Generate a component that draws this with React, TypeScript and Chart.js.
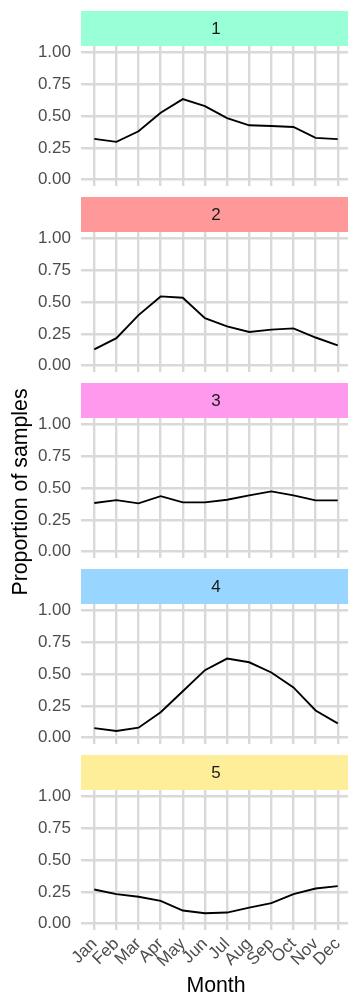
import React, { useEffect, useRef } from "react";
import { Chart, registerables } from "chart.js";

Chart.register(...registerables);

const months = ["Jan", "Feb", "Mar", "Apr", "May", "Jun", "Jul", "Aug", "Sep", "Oct", "Nov", "Dec"];
const panelLabels = ["1", "2", "3", "4", "5"];
const stripColors = ["#99FFD6", "#FF9999", "#FF99EE", "#99D6FF", "#FFEE99"];

const cluster1 = [0.32, 0.297, 0.38, 0.526, 0.633, 0.578, 0.484, 0.427, 0.422, 0.414, 0.328, 0.318];
const cluster2 = [0.128, 0.216, 0.397, 0.544, 0.533, 0.373, 0.309, 0.264, 0.283, 0.293, 0.221, 0.16];
const cluster3 = [0.382, 0.405, 0.379, 0.436, 0.387, 0.387, 0.408, 0.442, 0.473, 0.442, 0.403, 0.403];
const cluster4 = [0.075, 0.052, 0.078, 0.2, 0.364, 0.53, 0.621, 0.592, 0.512, 0.395, 0.213, 0.112];
const cluster5 = [0.268, 0.232, 0.211, 0.179, 0.103, 0.082, 0.087, 0.126, 0.161, 0.232, 0.276, 0.295];
const seriesList = [cluster1, cluster2, cluster3, cluster4, cluster5];

const yTicks = [0, 0.25, 0.5, 0.75, 1];
const yTickLabels = ["0.00", "0.25", "0.50", "0.75", "1.00"];
const xTitle = "Month";
const yTitle = "Proportion of samples";

const FONT = "'Liberation Sans', Arial, Helvetica, sans-serif";
const STRIP_H = 35;
const PLOT_H = 140;
const PANEL_STEP = 186;
const TOP0 = 11;
const AXIS_W = 81;
const CANVAS_W = 351;
const LAST_EXTRA = 69;
const GRID_COLOR = "#D9D9D9";
const GRID_W = 2.4;

Chart.defaults.font.family = FONT;

function Panel({ index, values, last }: { index: number; values: number[]; last: boolean }) {
  const ref = useRef<HTMLCanvasElement>(null);
  const height = STRIP_H + PLOT_H + (last ? LAST_EXTRA : 0);

  useEffect(() => {
    const stripPlugin = {
      id: "strip" + index,
      beforeDraw(chart: any) {
        const { ctx, chartArea } = chart;
        ctx.save();
        ctx.fillStyle = stripColors[index];
        ctx.fillRect(chartArea.left, chartArea.top - STRIP_H, chartArea.right - chartArea.left, STRIP_H);
        ctx.fillStyle = "#1A1A1A";
        ctx.font = `17px ${FONT}`;
        ctx.textAlign = "center";
        ctx.textBaseline = "middle";
        ctx.fillText(panelLabels[index], (chartArea.left + chartArea.right) / 2, chartArea.top - STRIP_H / 2 + 0.5);
        ctx.restore();
      },
    };

    const chart = new Chart(ref.current as HTMLCanvasElement, {
      type: "line",
      data: {
        datasets: [
          {
            data: values.map((v, i) => ({ x: i, y: v })),
            borderColor: "#000000",
            borderWidth: 1.9,
            pointRadius: 0,
            tension: 0,
            fill: false,
          },
        ],
      },
      options: {
        animation: false,
        responsive: false,
        maintainAspectRatio: false,
        layout: { padding: { top: STRIP_H, left: 0, right: 0, bottom: 0 } },
        plugins: { legend: { display: false }, tooltip: { enabled: false } },
        scales: {
          x: {
            type: "linear",
            bounds: "data",
            min: -0.6,
            max: 11.6,
            afterBuildTicks: (s: any) => {
              s.ticks = months.map((_, i) => ({ value: i }));
            },
            ticks: {
              display: last,
              autoSkip: false,
              minRotation: 45,
              maxRotation: 45,
              padding: 4,
              color: "#4D4D4D",
              font: { size: 17, family: FONT },
              callback: (v: any) => months[v as number],
            },
            grid: { color: GRID_COLOR, lineWidth: GRID_W, drawTicks: false },
            border: { display: false },
            title: {
              display: last,
              text: xTitle,
              color: "#000000",
              font: { size: 21.3, family: FONT },
              padding: 0,
            },
            afterFit: (s: any) => {
              s.height = last ? LAST_EXTRA : 0;
              s.paddingLeft = 0;
              s.paddingRight = 0;
            },
          },
          y: {
            type: "linear",
            bounds: "data",
            min: -0.05,
            max: 1.05,
            afterBuildTicks: (s: any) => {
              s.ticks = yTicks.map((v) => ({ value: v }));
            },
            ticks: {
              padding: 10,
              color: "#4D4D4D",
              font: { size: 17, family: FONT },
              callback: (v: any) => yTickLabels[yTicks.indexOf(v as number)] ?? "",
            },
            grid: { color: GRID_COLOR, lineWidth: GRID_W, drawTicks: false },
            border: { display: false },
            afterFit: (s: any) => {
              s.width = AXIS_W;
              s.paddingTop = 0;
              s.paddingBottom = 0;
            },
          },
        },
      } as any,
      plugins: [stripPlugin],
    });
    return () => chart.destroy();
  }, [index, values, last]);

  return (
    <canvas
      ref={ref}
      width={CANVAS_W}
      height={height}
      style={{
        position: "absolute",
        left: 0,
        top: TOP0 + PANEL_STEP * index,
        width: CANVAS_W,
        height: height,
      }}
    />
  );
}

export default function App() {
  return (
    <div
      style={{
        position: "absolute",
        left: 0,
        top: 0,
        width: 348,
        height: 999,
        overflow: "hidden",
        background: "#FFFFFF",
      }}
    >
      {seriesList.map((s, i) => (
        <Panel key={i} index={i} values={s} last={i === seriesList.length - 1} />
      ))}
      <div
        style={{
          position: "absolute",
          left: 19.5 - 150,
          top: 492 - 11,
          width: 300,
          height: 22,
          lineHeight: "22px",
          textAlign: "center",
          fontFamily: FONT,
          fontSize: 21.3,
          color: "#000000",
          transform: "rotate(-90deg)",
          transformOrigin: "50% 50%",
          whiteSpace: "nowrap",
        }}
      >
        {yTitle}
      </div>
    </div>
  );
}
